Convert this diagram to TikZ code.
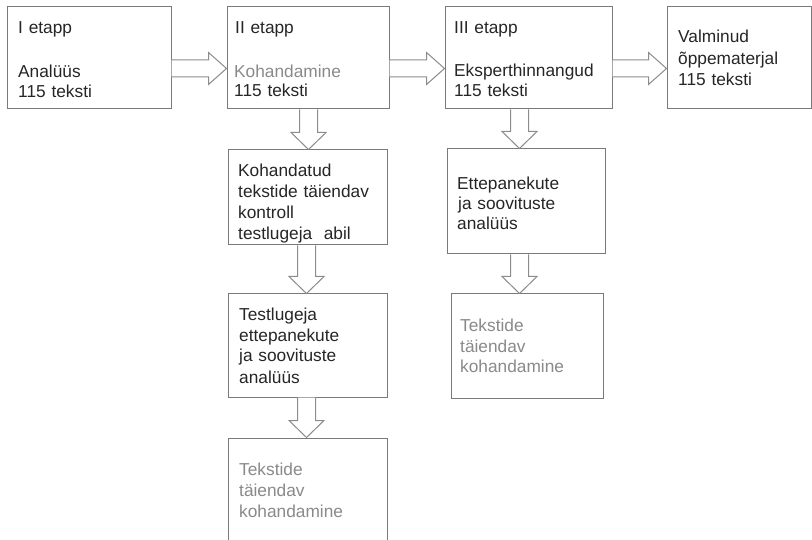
\documentclass[tikz,border=0pt]{standalone}
\usepackage{fontspec}
\setmainfont{Liberation Sans}
\usetikzlibrary{calc}
\definecolor{boxline}{HTML}{7A7A7A}
\definecolor{arrline}{HTML}{8C8C8C}
\definecolor{txtdark}{HTML}{262626}
\definecolor{txtgray}{HTML}{8A8A8A}
\tikzset{
  stagebox/.style={draw=boxline, line width=1pt, inner sep=0pt, fill=white},
  boxtext/.style={anchor=base west, inner sep=0pt, text width=160pt, align=left,
    font=\fontsize{17.3pt}{21pt}\selectfont, text=txtdark},
  graytext/.style={boxtext, text=txtgray},
  blockarrow/.style={draw=arrline, line width=1pt, fill=white, line join=miter}
}
% horizontal block arrow: from node, to node, vertical offset from centre
\newcommand{\hblock}[3]{%
  \draw[blockarrow] ($(#1.east)+(0,#3-8.5)$) -- ($(#2.west)+(-18,#3-8.5)$)
    -- ($(#2.west)+(-18,#3-16)$) -- ($(#2.west)+(0,#3)$)
    -- ($(#2.west)+(-18,#3+16)$) -- ($(#2.west)+(-18,#3+8.5)$)
    -- ($(#1.east)+(0,#3+8.5)$);}
% vertical block arrow: from node, to node, horizontal offset from centre of from-node
\newcommand{\vblock}[4]{%
  \draw[blockarrow] ($(#1.south)+(#3-9,0)$) -- ($(#2.north)+(#4-9,-17)$)
    -- ($(#2.north)+(#4-17.5,-17)$) -- ($(#2.north)+(#4,0)$)
    -- ($(#2.north)+(#4+17.5,-17)$) -- ($(#2.north)+(#4+9,-17)$)
    -- ($(#1.south)+(#3+9,0)$);}
\begin{document}
\begin{tikzpicture}[x=1pt,y=-1pt]
\useasboundingbox (0,0) rectangle (812,540);
\clip (0,0) rectangle (812,540);
\fill[white] (0,0) rectangle (812,540);

% boxes
\node[stagebox, minimum width=164pt, minimum height=102pt] (b1) at (89,58) {};
\node[stagebox, minimum width=162pt, minimum height=102pt] (b2) at (308,58) {};
\node[stagebox, minimum width=167pt, minimum height=102pt] (b3) at (528.5,58) {};
\node[stagebox, minimum width=144pt, minimum height=102pt] (b4) at (739,58) {};
\node[stagebox, minimum width=159pt, minimum height=95pt] (b5) at (307.5,197.5) {};
\node[stagebox, minimum width=159pt, minimum height=103pt] (b6) at (307.5,345.5) {};
\node[stagebox, minimum width=159pt, minimum height=142pt] (b7) at (307.5,509) {};
\node[stagebox, minimum width=158pt, minimum height=105pt] (b8) at (526,201.5) {};
\node[stagebox, minimum width=152pt, minimum height=104pt] (b9) at (527,346) {};

% arrows
\hblock{b1}{b2}{10.5}
\hblock{b2}{b3}{10.5}
\hblock{b3}{b4}{10.5}
\vblock{b2}{b5}{0.5}{1}
\vblock{b5}{b6}{-1}{-1}
\vblock{b6}{b7}{-1}{-1}
\vblock{b3}{b8}{-9}{-6.5}
\vblock{b8}{b9}{-6.5}{-7.5}

% texts
\node[boxtext] (t1a) at (18,34) {I etapp};
\node[boxtext, font=\fontsize{17.3pt}{19.5pt}\selectfont] (t1b) at (18,78) {Analüüs\\115 teksti};

\node[boxtext] (t2a) at (235,34) {II etapp};
\node[graytext] (t2b) at (234,78) {Kohandamine};
\node[boxtext] (t2c) at (234,97) {115 teksti};

\node[boxtext] (t3a) at (454,34) {III etapp};
\node[boxtext, font=\fontsize{17.3pt}{20pt}\selectfont] (t3b) at (454,77) {Eksperthinnangud\\115 teksti};

\node[boxtext, font=\fontsize{17.3pt}{21.5pt}\selectfont] (t4) at (678,43) {Valminud\\õppematerjal\\115 teksti};

\node[boxtext] (t5) at (238,177) {Kohandatud\\tekstide täiendav\\kontroll\\testlugeja\ \ abil};
\node[boxtext] (t6) at (239,320) {Testlugeja\\ettepanekute\\ja soovituste\\analüüs};
\node[graytext] (t7) at (239,475) {Tekstide\\täiendav\\kohandamine};

\node[boxtext, font=\fontsize{17.3pt}{20pt}\selectfont] (t8) at (457,190) {Ettepanekute\\\hspace*{1pt}ja soovituste\\analüüs};
\node[graytext, font=\fontsize{17.3pt}{20.5pt}\selectfont] (t9) at (460,332) {Tekstide\\täiendav\\kohandamine};
\end{tikzpicture}
\end{document}
